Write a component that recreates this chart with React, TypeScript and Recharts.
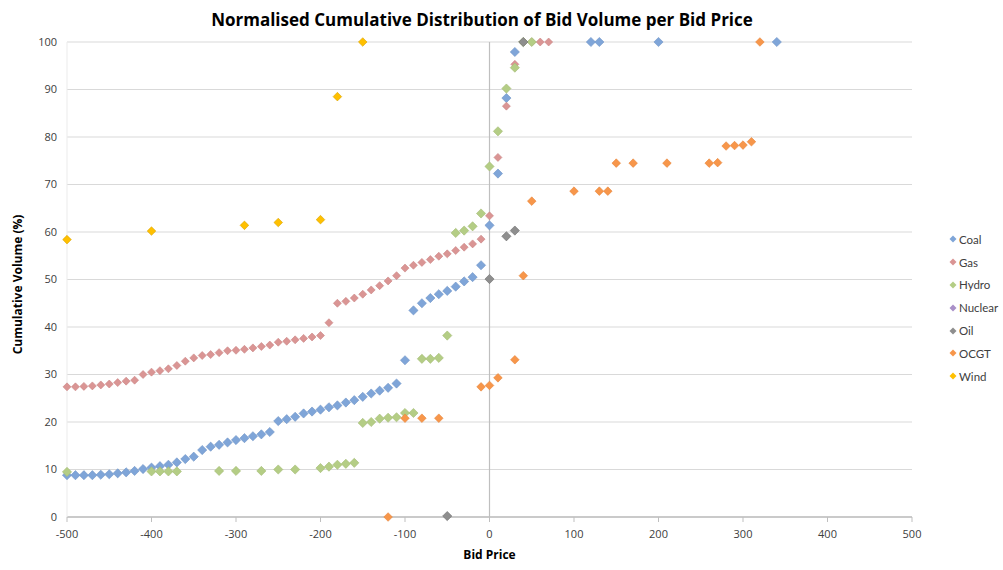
import { CartesianGrid, Legend, ReferenceLine, Scatter, ScatterChart, XAxis, YAxis } from "recharts"

const xTicks = [-500, -400, -300, -200, -100, 0, 100, 200, 300, 400, 500]
const yTicks = [0, 10, 20, 30, 40, 50, 60, 70, 80, 90, 100]

const coalPrice = [
    -500, -490, -480, -470, -460, -450, -440, -430, -420, -410, -400, -390, -380, -370, -360, -350, -340, -330,
    -320, -310, -300, -290, -280, -270, -260, -250, -240, -230, -220, -210, -200, -190, -180, -170, -160, -150,
    -140, -130, -120, -110, -100, -90, -80, -70, -60, -50, -40, -30, -20, -10, 0, 10, 20, 30, 120, 130, 200, 340,
]
const coalVolume = [
    8.8, 8.8, 8.8, 8.8, 8.9, 9.0, 9.2, 9.4, 9.7, 10.1, 10.4, 10.7, 11.0, 11.5, 12.2, 12.7, 14.1, 14.8, 15.2, 15.7,
    16.2, 16.6, 17.0, 17.4, 17.9, 20.2, 20.6, 21.1, 21.8, 22.2, 22.6, 23.1, 23.5, 24.1, 24.6, 25.3, 26.0, 26.6,
    27.2, 28.1, 33.0, 43.5, 45.0, 46.1, 46.9, 47.6, 48.5, 49.6, 50.5, 53.0, 61.4, 72.3, 88.2, 97.9, 100, 100, 100,
    100,
]

const gasPrice = [
    -500, -490, -480, -470, -460, -450, -440, -430, -420, -410, -400, -390, -380, -370, -360, -350, -340, -330,
    -320, -310, -300, -290, -280, -270, -260, -250, -240, -230, -220, -210, -200, -190, -180, -170, -160, -150,
    -140, -130, -120, -110, -100, -90, -80, -70, -60, -50, -40, -30, -20, -10, 0, 10, 20, 30, 40, 50, 60, 70,
]
const gasVolume = [
    27.4, 27.4, 27.5, 27.6, 27.8, 28.0, 28.3, 28.6, 28.8, 30.0, 30.5, 30.8, 31.2, 31.9, 32.8, 33.5, 34.0, 34.2,
    34.6, 35.0, 35.1, 35.3, 35.6, 35.9, 36.2, 36.8, 37.0, 37.3, 37.6, 37.9, 38.2, 40.9, 45.0, 45.4, 46.1, 46.9,
    47.8, 48.7, 49.7, 50.8, 52.4, 53.0, 53.6, 54.2, 54.9, 55.4, 56.1, 56.8, 57.5, 58.5, 63.4, 75.7, 86.5, 95.3,
    100, 100, 100, 100,
]

const hydroPrice = [
    -500, -400, -390, -380, -370, -320, -300, -270, -250, -230, -200, -190, -180, -170, -160, -150, -140, -130,
    -120, -110, -100, -90, -80, -70, -60, -50, -40, -30, -20, -10, 0, 10, 20, 30, 40, 50,
]
const hydroVolume = [
    9.5, 9.6, 9.6, 9.6, 9.6, 9.7, 9.7, 9.7, 10.0, 10.0, 10.3, 10.6, 11.0, 11.2, 11.4, 19.8, 20.0, 20.7, 20.9, 21.0,
    21.9, 21.9, 33.3, 33.3, 33.5, 38.2, 59.8, 60.3, 61.2, 63.9, 73.8, 81.2, 90.2, 94.6, 100, 100,
]

const nuclearPrice: number[] = []
const nuclearVolume: number[] = []

const oilPrice = [-50, 0, 20, 30, 40]
const oilVolume = [0.2, 50.1, 59.1, 60.3, 100]

const ocgtPrice = [-120, -100, -80, -60, -10, 0, 10, 30, 40, 50, 100, 130, 140, 150, 170, 210, 260, 270, 280, 290, 300, 310, 320]
const ocgtVolume = [0, 20.8, 20.8, 20.8, 27.4, 27.7, 29.3, 33.1, 50.8, 66.5, 68.6, 68.6, 68.6, 74.5, 74.5, 74.5, 74.5, 74.6, 78.1, 78.2, 78.3, 79.0, 100]

const windPrice = [-500, -400, -290, -250, -200, -180, -150]
const windVolume = [58.4, 60.2, 61.4, 62.0, 62.6, 88.5, 100]

const toPoints = (xs: number[], ys: number[]) => xs.map((x, i) => ({ price: x, volume: ys[i] }))

const series = [
    { name: "Coal", color: "#7FA5D8", stroke: "#6E94C6", size: 4.6, data: toPoints(coalPrice, coalVolume) },
    { name: "Gas", color: "#DA9594", stroke: "#C98584", size: 4, data: toPoints(gasPrice, gasVolume) },
    { name: "Hydro", color: "#B4CD85", stroke: "#A2BB74", size: 4.6, data: toPoints(hydroPrice, hydroVolume) },
    { name: "Nuclear", color: "#A990C8", stroke: "#9880B6", size: 4.6, data: toPoints(nuclearPrice, nuclearVolume) },
    { name: "Oil", color: "#8E8E8E", stroke: "#6E6E6E", size: 4.6, data: toPoints(oilPrice, oilVolume) },
    { name: "OCGT", color: "#F7964A", stroke: "#E5853A", size: 4.3, data: toPoints(ocgtPrice, ocgtVolume) },
    { name: "Wind", color: "#FFC000", stroke: "#D9A300", size: 4.3, data: toPoints(windPrice, windVolume) },
]

const font = "'Open Sans', Lato, sans-serif"
const legendFont = "Lato, 'Open Sans', sans-serif"

// excel style diamond (square turned 45 degrees), d3's diamond is too narrow
const diamond = (r: number, fill: string, stroke: string) => (props: any) => {
    const { cx, cy } = props
    if (cx == null || cy == null) return <g />
    return (
        <path
            d={`M${cx},${cy - r}L${cx + r},${cy}L${cx},${cy + r}L${cx - r},${cy}Z`}
            fill={fill}
            stroke={stroke}
            strokeWidth={0.6}
        />
    )
}

const renderLegend = () => (
    <div style={{ color: "#404040", fontFamily: legendFont, fontSize: 11.5, paddingLeft: 37, whiteSpace: "nowrap" }}>
        {series.map((s) => (
            <div key={s.name} style={{ alignItems: "center", display: "flex", height: 22.8 }}>
                <svg height={8} style={{ flexShrink: 0, marginRight: 2 }} width={8}>
                    <path d="M4,0.5L7.5,4L4,7.5L0.5,4Z" fill={s.color} />
                </svg>
                <span>{s.name}</span>
            </div>
        ))}
    </div>
)

export default function App() {
    return (
        <div style={{ background: "#fff", height: 570, left: 0, position: "absolute", top: 0, width: 1003 }}>
            <div
                style={{
                    color: "#000",
                    fontFamily: font,
                    fontSize: 17,
                    fontWeight: 700,
                    left: 0,
                    position: "absolute",
                    textAlign: "center",
                    top: 8,
                    width: 964,
                }}
            >
                Normalised Cumulative Distribution of Bid Volume per Bid Price
            </div>
            <ScatterChart height={570} margin={{ bottom: 23, left: 7, right: 11, top: 42 }} width={1003}>
                <CartesianGrid stroke="#D9D9D9" vertical={false} />
                <XAxis
                    axisLine={{ stroke: "#BFBFBF", strokeWidth: 1.5 }}
                    dataKey="price"
                    domain={[-500, 500]}
                    height={30}
                    label={{
                        fill: "#000",
                        fontFamily: font,
                        fontSize: 12,
                        fontWeight: 700,
                        offset: 3,
                        position: "bottom",
                        value: "Bid Price",
                    }}
                    name="Bid Price"
                    tick={{ fill: "#404040", fontFamily: font, fontSize: 11 }}
                    tickLine={{ stroke: "#BFBFBF" }}
                    tickMargin={8}
                    tickSize={5}
                    ticks={xTicks}
                    type="number"
                />
                <YAxis
                    axisLine={{ stroke: "#EBEBEB" }}
                    dataKey="volume"
                    domain={[0, 100]}
                    label={{
                        content: ({ viewBox }: any) => (
                            <text
                                fill="#000"
                                fontFamily={font}
                                fontSize={12}
                                fontWeight={700}
                                textAnchor="middle"
                                transform={`rotate(-90, ${viewBox.x + 15}, ${viewBox.y + viewBox.height / 2 + 5})`}
                                x={viewBox.x + 15}
                                y={viewBox.y + viewBox.height / 2 + 5}
                            >
                                Cumulative Volume (%)
                            </text>
                        ),
                    }}
                    name="Cumulative Volume"
                    tick={{ fill: "#404040", fontFamily: font, fontSize: 11 }}
                    tickLine={false}
                    tickMargin={10}
                    tickSize={0}
                    ticks={yTicks}
                    type="number"
                    width={60}
                />
                <ReferenceLine stroke="#BFBFBF" strokeWidth={1.2} x={0} />
                <Legend
                    align="right"
                    content={renderLegend}
                    layout="vertical"
                    verticalAlign="top"
                    wrapperStyle={{ top: 228, width: 80 }}
                />
                {series.map((s) => (
                    <Scatter
                        data={s.data}
                        fill={s.color}
                        isAnimationActive={false}
                        key={s.name}
                        name={s.name}
                        shape={diamond(s.size, s.color, s.stroke)}
                    />
                ))}
            </ScatterChart>
        </div>
    )
}
